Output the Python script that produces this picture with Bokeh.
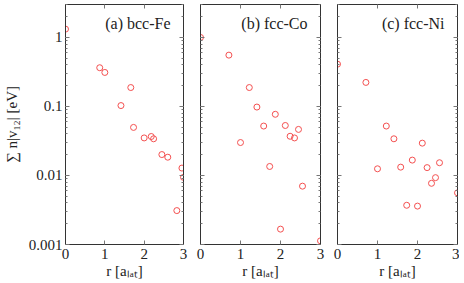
from bokeh.plotting import figure
from bokeh.models import Range1d, LinearAxis, LogAxis, FixedTicker, LogTicker, Label, ColumnDataSource
from bokeh.layouts import row
from bokeh.embed import file_html
from bokeh.resources import INLINE

# ---- data ----
panel_titles = ["(a) bcc-Fe", "(b) fcc-Co", "(c) fcc-Ni"]

fe_r = [0.0, 0.87, 1.0, 1.41, 1.66, 1.73, 2.0, 2.18, 2.24, 2.45, 2.6, 2.96, 3.0, 2.83]
fe_v = [1.32, 0.364, 0.311, 0.103, 0.188, 0.0497, 0.035, 0.0367, 0.034, 0.0201, 0.0184, 0.0128, 0.0094, 0.0031]

co_r = [0.0, 0.71, 1.0, 1.22, 1.41, 1.58, 1.73, 1.87, 2.0, 2.12, 2.24, 2.35, 2.45, 2.55, 3.0]
co_v = [1.0, 0.554, 0.030, 0.188, 0.098, 0.052, 0.0135, 0.077, 0.00167, 0.053, 0.037, 0.035, 0.0465, 0.0070, 0.00113]

ni_r = [0.0, 0.71, 1.0, 1.22, 1.41, 1.58, 1.73, 1.87, 2.0, 2.12, 2.24, 2.35, 2.45, 2.55, 3.0]
ni_v = [0.41, 0.223, 0.0125, 0.052, 0.034, 0.0132, 0.0037, 0.0167, 0.0036, 0.0294, 0.0130, 0.0077, 0.0093, 0.0153, 0.0056]

x_ticks = [0, 1, 2, 3]
y_ticks = [0.001, 0.01, 0.1, 1]
y_tick_labels = ["0.001", "0.01", "0.1", "1"]

x_label = "r [aₗₐₜ]"
y_label = "∑ n|v₁₂| [eV]"

FONT = "Liberation Serif"
MARK = "#f45050"
TICK = "#777777"
TXT = "#222222"

series = [(fe_r, fe_v), (co_r, co_v), (ni_r, ni_v)]


def hide_labels(ax):
    ax.major_label_text_font_size = "1px"
    ax.major_label_text_color = None
    ax.major_label_standoff = 0


def make_panel(i):
    first = i == 0
    p = figure(
        output_backend="svg", toolbar_location=None,
        frame_width=118 if first else 120, frame_height=240,
        y_axis_type="log",
        x_range=Range1d(0, 3), y_range=Range1d(0.001, 3),
        min_border_left=54 if first else 10,
        min_border_right=7,
        min_border_top=4, min_border_bottom=34,
    )
    if i == 2:
        p.min_border_right = 2
    p.grid.visible = False
    p.outline_line_color = "#333333"
    p.outline_line_width = 1
    p.background_fill_color = "white"
    p.border_fill_color = "white"

    src = ColumnDataSource(dict(r=series[i][0], v=series[i][1]))
    p.scatter("r", "v", source=src, size=6, marker="circle",
              fill_color=None, line_color=MARK, line_width=1)

    # bottom x axis
    xa = p.xaxis[0]
    xa.ticker = FixedTicker(ticks=x_ticks)
    xa.major_tick_in = 4
    xa.major_tick_out = 0
    xa.minor_tick_line_color = None
    xa.major_tick_line_color = TICK
    xa.axis_line_color = "#333333"
    xa.major_label_text_font = FONT
    xa.major_label_text_font_size = "15px"
    xa.major_label_text_color = TXT
    xa.major_label_standoff = 4
    xa.axis_label = x_label
    xa.axis_label_text_font = FONT
    xa.axis_label_text_font_size = "15px"
    xa.axis_label_text_font_style = "normal"
    xa.axis_label_text_color = TXT
    xa.axis_label_standoff = 1

    # left y axis
    ya = p.yaxis[0]
    ya.ticker = LogTicker(num_minor_ticks=10)
    ya.major_tick_in = 4
    ya.major_tick_out = 0
    ya.minor_tick_in = 2
    ya.minor_tick_out = 0
    ya.major_tick_line_color = TICK
    ya.minor_tick_line_color = TICK
    ya.axis_line_color = "#333333"
    if first:
        ya.major_label_overrides = {t: l for t, l in zip(y_ticks, y_tick_labels)}
        ya.major_label_text_font = FONT
        ya.major_label_text_font_size = "15px"
        ya.major_label_text_color = TXT
        ya.major_label_standoff = 3
        ya.axis_label = y_label
        ya.axis_label_text_font = FONT
        ya.axis_label_text_font_size = "15px"
        ya.axis_label_text_font_style = "normal"
        ya.axis_label_text_color = TXT
        ya.axis_label_standoff = 6
    else:
        hide_labels(ya)

    # mirrored top axis
    ta = LinearAxis(ticker=FixedTicker(ticks=x_ticks))
    ta.major_tick_in = 4
    ta.major_tick_out = 0
    ta.minor_tick_line_color = None
    ta.major_tick_line_color = TICK
    ta.axis_line_color = "#333333"
    hide_labels(ta)
    p.add_layout(ta, "above")

    # mirrored right axis
    ra = LogAxis(ticker=LogTicker(num_minor_ticks=10))
    ra.major_tick_in = 4
    ra.major_tick_out = 0
    ra.minor_tick_in = 2
    ra.minor_tick_out = 0
    ra.major_tick_line_color = TICK
    ra.minor_tick_line_color = TICK
    ra.axis_line_color = "#333333"
    hide_labels(ra)
    p.add_layout(ra, "right")

    p.add_layout(Label(x=3, y=3, x_offset=-13, y_offset=-10,
                       text=panel_titles[i], text_align="right",
                       text_baseline="top", text_font=FONT,
                       text_font_size="16px", text_color=TXT))
    return p


panels = [make_panel(i) for i in range(3)]
layout = row(*panels, spacing=0)

open("out.html", "w").write(file_html(layout, INLINE))
